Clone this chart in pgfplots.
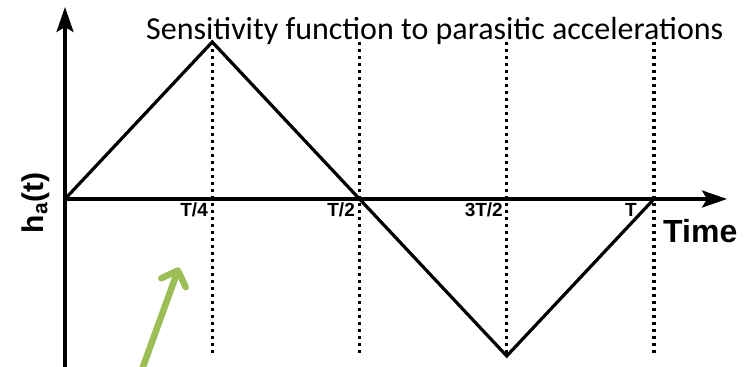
\documentclass[border=0pt]{standalone}
\usepackage{pgfplots}
\pgfplotsset{compat=1.18}
\usepackage{fontspec}
\setmainfont{Liberation Sans}
\newfontfamily\titlefont{Carlito}
\usetikzlibrary{arrows.meta}
\definecolor{officegreen}{RGB}{155,190,86}

\begin{document}
\begin{tikzpicture}
\begin{axis}[
  scale only axis,
  width=745bp, height=367bp,
  xmin=-0.11036, xmax=1.15450,
  ymin=-1.0701, ymax=1.26752,
  axis line style={draw=none},
  xtick=\empty, ytick=\empty,
  clip=true,
]
% time and amplitude axes
\addplot[black, line width=3.3bp, -{Stealth[length=25bp,width=17bp,inset=5bp]}]
  coordinates {(0,-1.08) (0,1.2229)};
\addplot[black, line width=3.3bp, -{Stealth[length=25bp,width=17bp,inset=5bp]}]
  coordinates {(0,0) (1.124,0)};

% quarter-period guides
\foreach \t in {0.25,0.5,0.75,1} {
  \edef\tmp{\noexpand\addplot[black, line width=3.4bp, dash pattern=on 3.2bp off 3.8bp]
    coordinates {(\t,1) (\t,-1)};}
  \tmp
}

% triangular sensitivity function
\addplot[black, line width=3.2bp, line join=miter] coordinates {
  (0,0) (0.25,1) (0.5,0) (0.75,-1) (1,0)
};

% pointer
\addplot[officegreen, line width=6.5bp, line cap=round,
  -{Straight Barb[length=13bp,width=26bp,round]}]
  coordinates {(0.1274,-1.12) (0.1936,-0.436)};

% labels
\node[anchor=base east, inner sep=0pt, font=\bfseries\fontsize{19bp}{19bp}\selectfont]
  at (axis cs:0.2428,-0.1146) {T/4};
\node[anchor=base east, inner sep=0pt, font=\bfseries\fontsize{19bp}{19bp}\selectfont]
  at (axis cs:0.4924,-0.1146) {T/2};
\node[anchor=base east, inner sep=0pt, font=\bfseries\fontsize{19bp}{19bp}\selectfont]
  at (axis cs:0.7436,-0.1146) {3T/2};
\node[anchor=base east, inner sep=0pt, font=\bfseries\fontsize{19bp}{19bp}\selectfont]
  at (axis cs:0.971,-0.1146) {T};
\node[anchor=base west, inner sep=0pt, font=\bfseries\fontsize{32bp}{32bp}\selectfont]
  at (axis cs:1.0153,-0.280) {Time};
\node[rotate=90, anchor=center, inner sep=0pt, font=\bfseries\fontsize{30bp}{30bp}\selectfont]
  at (axis cs:-0.0492,-0.025) {h$_{\mathbf{a}}$(t)};
\node[anchor=base west, inner sep=0pt, font=\titlefont\fontsize{32bp}{32bp}\selectfont]
  at (axis cs:0.1375,1.019) {Sensitivity function to parasitic accelerations};
\end{axis}
\end{tikzpicture}
\end{document}
